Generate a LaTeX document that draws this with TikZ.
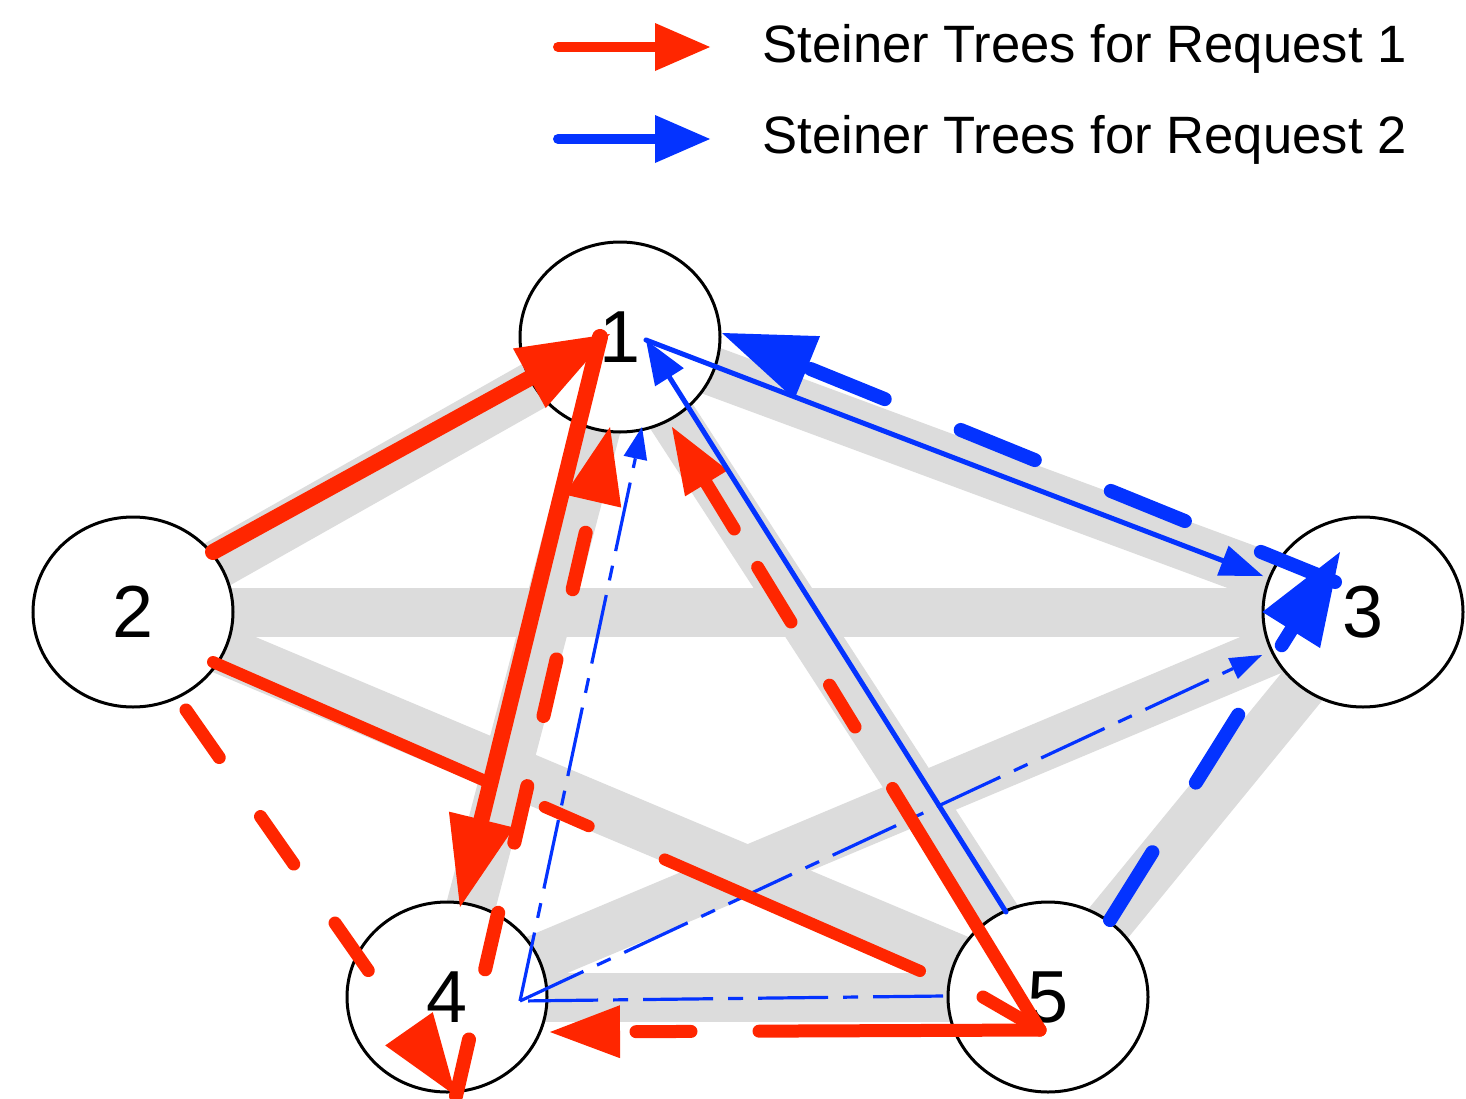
\documentclass[tikz,border=0pt]{standalone}
\usepackage{fontspec}
\setmainfont{Liberation Sans}
\usepackage{tikz}
\usetikzlibrary{arrows.meta,shapes.geometric,backgrounds}

\definecolor{reqred}{RGB}{255,38,0}
\definecolor{reqblue}{RGB}{4,51,255}
\definecolor{linkgray}{RGB}{220,220,220}

\begin{document}
\begin{tikzpicture}[
	station/.style={ellipse,draw,line width=1.5bp,fill=white,minimum width=100bp,minimum height=95bp,inner sep=0pt,font=\fontsize{37}{40}\selectfont},
	linkband/.style={linkgray,line width=24.5bp},
	redtree/.style={reqred,line cap=round},
	bluetree/.style={reqblue,line cap=round},
	tipsize/.style 2 args={-{Triangle[length=#1,width=#2,line width=0pt]}},
	reddash/.style={dash pattern=on 29bp off 36bp},
	bluedash/.style={dash pattern=on 40bp off 41bp},
	bluedot/.style={reqblue,line width=1.6bp,dash pattern=on 35bp off 7.5bp on 7.5bp off 7.5bp},
	legendtext/.style={anchor=base west,inner sep=0pt,font=\fontsize{26.4}{30}\selectfont}]

	\useasboundingbox (0bp,0bp) rectangle (733bp,-549.5bp);

	\node (n1) at (310bp,-168.5bp)   [station] {1};
	\node (n2) at (66.5bp,-306bp)    [station] {2};
	\node (n3) at (681.5bp,-306bp)   [station] {3};
	\node (n4) at (223.5bp,-498.5bp) [station] {4};
	\node (n5) at (524bp,-498.5bp)   [station] {5};

	\begin{scope}[on background layer]
		\draw [linkband] (n1.center) -- (n2.center);
		\draw [linkband] (n1.center) -- (n3.center);
		\draw [linkband] (n1.center) -- (n4.center);
		\draw [linkband] (n1.center) -- (n5.center);
		\draw [linkband] (n2.center) -- (n3.center);
		\draw [linkband] (n2.center) -- (n5.center);
		\draw [linkband] (n3.center) -- (n4.center);
		\draw [linkband] (n3.center) -- (n5.center);
		\draw [linkband] (n4.center) -- (n5.center);
	\end{scope}

	% end points of the request 1 trees
	\coordinate (r2up)   at (106.5bp,-276bp);
	\coordinate (r2mid)  at (106.5bp,-331bp);
	\coordinate (r2low)  at (93bp,-355bp);
	\coordinate (r1west) at (305bp,-167bp);
	\coordinate (r1out)  at (300bp,-168.5bp);
	\coordinate (r1low)  at (305bp,-213.5bp);
	\coordinate (r1east) at (336bp,-213.5bp);
	\coordinate (r4top)  at (230bp,-453.5bp);
	\coordinate (r4low)  at (228bp,-548bp);
	\coordinate (r4east) at (275bp,-516bp);
	\coordinate (r5in)   at (460bp,-485.5bp);
	\coordinate (r5)     at (520bp,-515bp);
	\coordinate (r5barb) at (491.5bp,-498.5bp);

	% end points of the request 2 trees
	\coordinate (b1)     at (323bp,-170bp);
	\coordinate (b1low)  at (321bp,-213.5bp);
	\coordinate (b1east) at (361bp,-166.5bp);
	\coordinate (b3west) at (631.5bp,-288bp);
	\coordinate (b3low)  at (631bp,-327.5bp);
	\coordinate (b3in)   at (667.5bp,-291bp);
	\coordinate (b3up)   at (670bp,-276bp);
	\coordinate (b4)     at (260bp,-500.5bp);
	\coordinate (b5up)   at (503bp,-456bp);
	\coordinate (b5ne)   at (555bp,-460bp);
	\coordinate (b5west) at (471.5bp,-498bp);

	\draw [bluedot] (b5west) to (b4);
	\draw [bluedot,tipsize={16bp}{12bp}] (b4) to (b1low);
	\draw [bluedot,tipsize={16bp}{11.5bp}] (b4) to (b3low);

	\draw [redtree,line width=6bp,dash pattern=on 150bp off 31bp on 24bp off 41.5bp on 300bp] (r2mid) to (r5in);
	\draw [redtree,line width=6.5bp,reddash,tipsize={41bp}{29bp}] (r2low) to (r4low);
	\draw [redtree,line width=7bp,reddash,tipsize={38bp}{29bp}] (r4low) to (r1low);
	\draw [redtree,line width=6.5bp,dash pattern=on 141.5bp off 36bp on 24.5bp off 37bp on 32bp off 22.5bp on 100bp,tipsize={33bp}{25bp}] (r5) to (r1east);
	\draw [redtree,line width=6.5bp] (r5) to (r5barb);
	\draw [redtree,line width=6.5bp,dash pattern=on 140.5bp off 34bp on 27.5bp off 100bp,tipsize={35bp}{26.5bp}] (r5) to (r4east);
	\draw [redtree,line width=8bp,tipsize={46bp}{34bp}] (r2up) to (r1west);
	\draw [redtree,line width=8bp,tipsize={45bp}{33.5bp}] (r1out) to (r4top);

	\draw [bluetree,line width=2.5bp,tipsize={21.5bp}{16bp}] (b1) to (b3west);
	\draw [bluetree,line width=2.5bp,tipsize={22bp}{17bp}] (b5up) to (b1);
	\draw [bluetree,line width=7bp,bluedash,tipsize={46bp}{34bp}] (b3in) to (b1east);
	\draw [bluetree,line width=7bp,bluedash,tipsize={46bp}{34bp}] (b5ne) to (b3up);

	% legend
	\coordinate (k1a) at (279bp,-23.5bp);
	\coordinate (k1b) at (355bp,-23.5bp);
	\coordinate (k2a) at (279bp,-69.5bp);
	\coordinate (k2b) at (355bp,-69.5bp);
	\draw [redtree,line width=5bp,tipsize={27.5bp}{24bp}] (k1a) to (k1b);
	\draw [bluetree,line width=5bp,tipsize={27.5bp}{24bp}] (k2a) to (k2b);
	\node (t1) at (381bp,-31bp)   [legendtext] {Steiner Trees for Request 1};
	\node (t2) at (381bp,-76.5bp) [legendtext] {Steiner Trees for Request 2};
\end{tikzpicture}
\end{document}
